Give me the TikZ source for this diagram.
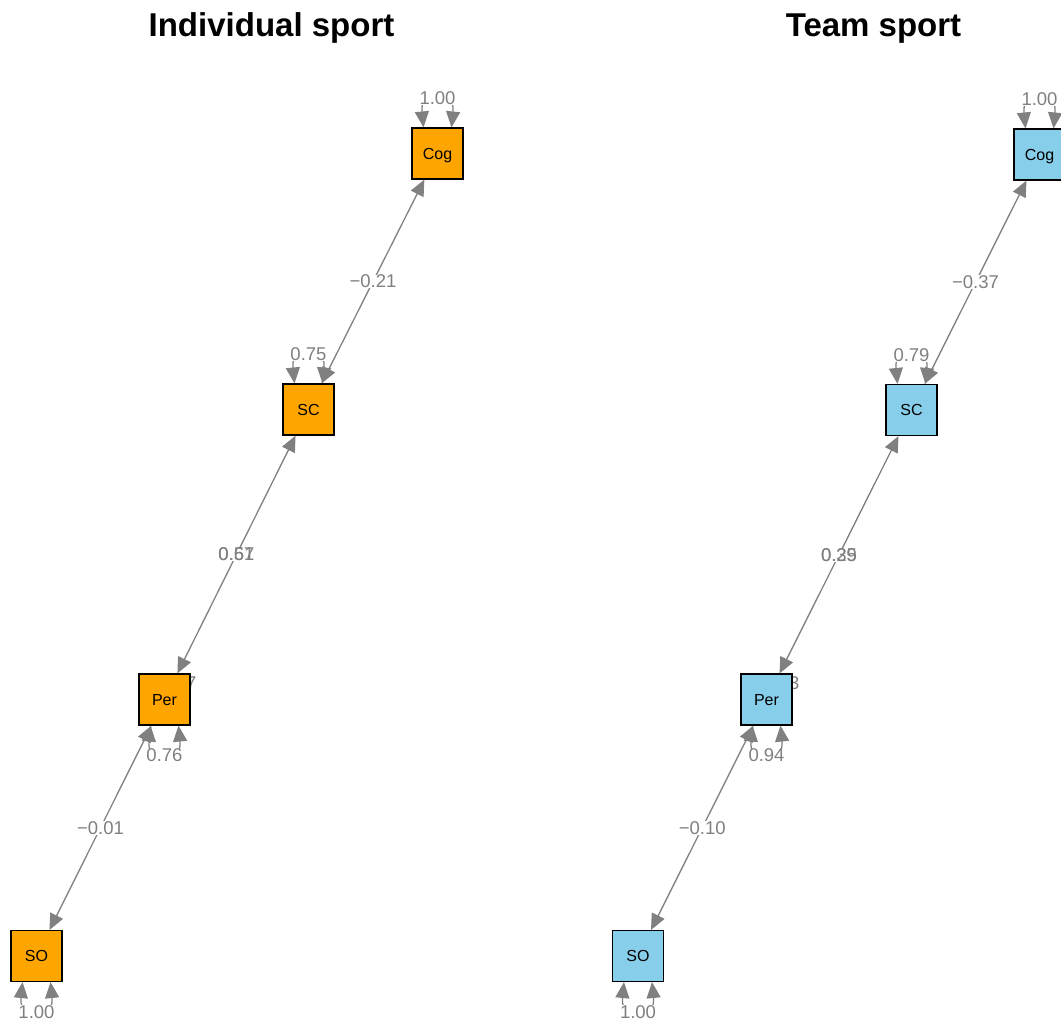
\documentclass[tikz,border=0pt]{standalone}
\usepackage{fontspec}
\setmainfont{Liberation Sans}
\usetikzlibrary{arrows.meta}
\definecolor{eg}{RGB}{128,128,128}
\definecolor{indiv}{RGB}{255,165,0}
\definecolor{team}{RGB}{135,206,235}
\tikzset{
  box/.style={draw=black, line width=1.1pt, minimum size=51pt, inner sep=0pt, text height=11.5pt, text depth=0pt, font=\fontsize{16}{19}\selectfont},
  ibox/.style={box, fill=indiv},
  tbox/.style={box, fill=team},
  edge/.style={draw=eg, line width=1.3pt, {Triangle[length=16pt,width=14pt]}-{Triangle[length=16pt,width=14pt]}},
  lbl/.style={fill=white, inner sep=0.3pt, text=eg, font=\fontsize{18.5}{20}\selectfont},
  hid/.style={inner sep=0pt, text=eg, font=\fontsize{18.5}{20}\selectfont},
  ttl/.style={font=\fontsize{33}{38}\selectfont\bfseries, anchor=base, inner sep=0pt}
}
\begin{document}
\begin{tikzpicture}[x=1pt,y=-1pt]
\useasboundingbox (0,0) rectangle (1061,1021);
\clip (0,0) rectangle (1061,1021);
% titles
\node[ttl] (t1) at (271.5,36) {Individual sport};
\node[ttl] (t2) at (873.5,36) {Team sport};
% node placement (drawn later on top)
\path
  (437.5,153.5) coordinate (cogLc)
  (308.5,409.5) coordinate (scLc)
  (164.5,699.5) coordinate (perLc)
  (36.5,956) coordinate (soLc)
  (1039.5,154.5) coordinate (cogRc)
  (911.5,410) coordinate (scRc)
  (766.5,699.5) coordinate (perRc)
  (638,956) coordinate (soRc);
% invisible node shapes for anchors
\node[box, draw=none, fill=none] (cogL) at (cogLc) {};
\node[box, draw=none, fill=none] (scL) at (scLc) {};
\node[box, draw=none, fill=none] (perL) at (perLc) {};
\node[box, draw=none, fill=none] (soL) at (soLc) {};
\node[box, draw=none, fill=none] (cogR) at (cogRc) {};
\node[box, draw=none, fill=none] (scR) at (scRc) {};
\node[box, draw=none, fill=none] (perR) at (perRc) {};
\node[box, draw=none, fill=none] (soR) at (soRc) {};
% hidden labels behind Per
\node[hid, anchor=east] (hL) at (196.5,683) {7};
\node[hid, anchor=east] (hR) at (799.5,683) {3};
% residual loops, left
\draw[edge] ([xshift=-14pt]cogL.north) .. controls +(-4,-40) and +(4,-40) .. ([xshift=14pt]cogL.north);
\draw[edge] ([xshift=-14pt]scL.north) .. controls +(-4,-40) and +(4,-40) .. ([xshift=14pt]scL.north);
\draw[edge] ([xshift=-14pt]perL.south) .. controls +(-4,40) and +(4,40) .. ([xshift=14pt]perL.south);
\draw[edge] ([xshift=-14pt]soL.south) .. controls +(-4,40) and +(4,40) .. ([xshift=14pt]soL.south);
% residual loops, right
\draw[edge] ([xshift=-14pt]cogR.north) .. controls +(-4,-40) and +(4,-40) .. ([xshift=14pt]cogR.north);
\draw[edge] ([xshift=-14pt]scR.north) .. controls +(-4,-40) and +(4,-40) .. ([xshift=14pt]scR.north);
\draw[edge] ([xshift=-14pt]perR.south) .. controls +(-4,40) and +(4,40) .. ([xshift=14pt]perR.south);
\draw[edge] ([xshift=-14pt]soR.south) .. controls +(-4,40) and +(4,40) .. ([xshift=14pt]soR.south);
% residual labels
\node[lbl] (rl1) at ([yshift=29pt]cogL.north) {1.00};
\node[lbl] (rl2) at ([yshift=29pt]scL.north) {0.75};
\node[lbl] (rl3) at ([yshift=-30pt]perL.south) {0.76};
\node[lbl] (rl4) at ([yshift=-30pt]soL.south) {1.00};
\node[lbl] (rr1) at ([yshift=29pt]cogR.north) {1.00};
\node[lbl] (rr2) at ([yshift=29pt]scR.north) {0.79};
\node[lbl] (rr3) at ([yshift=-30pt]perR.south) {0.94};
\node[lbl] (rr4) at ([yshift=-30pt]soR.south) {1.00};
% edges, left
\draw[edge] (cogL) -- node[lbl] {−0.21} (scL);
\draw[edge] (scL) -- node[lbl] {0.57} node[lbl, fill=none] {0.61} (perL);
\draw[edge] (perL) -- node[lbl] {−0.01} (soL);
% edges, right
\draw[edge] (cogR) -- node[lbl] {−0.37} (scR);
\draw[edge] (scR) -- node[lbl] {0.29} node[lbl, fill=none] {0.35} (perR);
\draw[edge] (perR) -- node[lbl] {−0.10} (soR);
% boxes
\node[ibox] (cogLb) at (cogLc) {Cog};
\node[ibox] (scLb) at (scLc) {SC};
\node[ibox] (perLb) at (perLc) {Per};
\node[ibox] (soLb) at (soLc) {SO};
\node[tbox] (cogRb) at (cogRc) {Cog};
\node[tbox] (scRb) at (scRc) {SC};
\node[tbox] (perRb) at (perRc) {Per};
\node[tbox] (soRb) at (soRc) {SO};
\end{tikzpicture}
\end{document}
